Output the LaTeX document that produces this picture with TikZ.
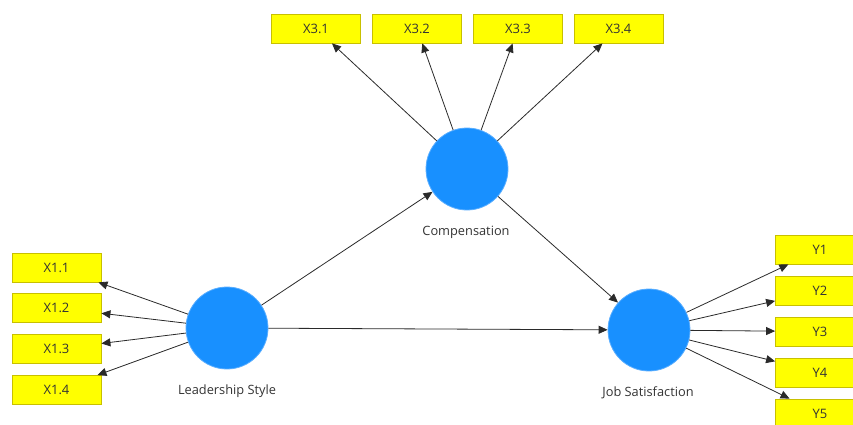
\documentclass[tikz,border=0pt]{standalone}
\usepackage{fontspec}
\setmainfont{Open Sans}
\usetikzlibrary{arrows.meta}
\definecolor{boxfill}{HTML}{FFFF00}
\definecolor{boxline}{HTML}{C8C000}
\definecolor{lvfill}{HTML}{1890FF}
\definecolor{lvline}{HTML}{5AAEFF}
\definecolor{arrowcol}{HTML}{2A2A2A}
\definecolor{txt}{HTML}{333333}
\begin{document}
\begin{tikzpicture}[x=1pt,y=-1pt,
  ind/.style={draw=boxline,fill=boxfill,line width=0.8pt,minimum width=89pt,minimum height=29pt,inner sep=0pt,text=txt,font=\fontsize{13}{15}\selectfont},
  lv/.style={circle,draw=lvline,fill=lvfill,line width=0.8pt,minimum size=82pt,inner sep=0pt},
  lab/.style={text=txt,font=\fontsize{12.8}{15}\selectfont},
  arr/.style={draw=arrowcol,line width=0.8pt,-{Triangle[length=9pt,width=8pt]}}]
\useasboundingbox (0,0) rectangle (853,424);
\begin{scope}
\clip (0,0) rectangle (853,424);
% latent variables
\node[lv] (comp) at (467,169) {};
\node[lv] (lead) at (227,328) {};
\node[lv] (job) at (649,330) {};
\node[lab] (compl) at (466,232) {Compensation};
\node[lab] (leadl) at (227,391) {Leadership Style};
\node[lab] (jobl) at (648,393) {Job Satisfaction};
% indicators
\node[ind] (x31) at (316,28.5) {X3.1};
\node[ind] (x32) at (417,28.5) {X3.2};
\node[ind] (x33) at (518,28.5) {X3.3};
\node[ind] (x34) at (618.5,28.5) {X3.4};
\node[ind] (x11) at (56.5,267.5) {X1.1};
\node[ind] (x12) at (56.5,308) {X1.2};
\node[ind] (x13) at (56.5,349) {X1.3};
\node[ind] (x14) at (56.5,390) {X1.4};
\node[ind] (y1) at (820,249.5) {Y1};
\node[ind] (y2) at (820,290.5) {Y2};
\node[ind] (y3) at (820,331.5) {Y3};
\node[ind] (y4) at (820,372.5) {Y4};
\node[ind] (y5) at (820,413.5) {Y5};
% connectors
\foreach \t in {x31,x32,x33,x34} \draw[arr] (comp) -- (\t);
\foreach \t in {x11,x12,x13,x14} \draw[arr] (lead) -- (\t);
\foreach \t in {y1,y2,y3,y4,y5} \draw[arr] (job) -- (\t);
\draw[arr] (lead) -- (comp);
\draw[arr] (lead) -- (job);
\draw[arr] (comp) -- (job);
\end{scope}
\end{tikzpicture}
\end{document}
